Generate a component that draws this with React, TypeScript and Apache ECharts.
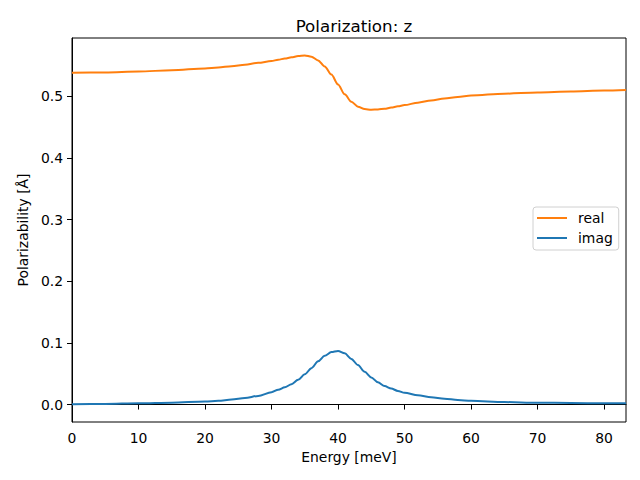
import React, { useEffect, useRef } from "react";
import * as echarts from "echarts";

const energy = [0, 5, 10, 15, 20, 22, 24, 26, 28, 30, 31, 32, 33, 34, 35, 36, 37, 38, 39, 40, 41, 42, 43, 44, 45, 46, 47, 48, 49, 50, 52, 54, 56, 58, 60, 65, 70, 75, 80, 83.3];
const realVals = [0.538, 0.5385, 0.54, 0.542, 0.545, 0.5465, 0.5485, 0.551, 0.554, 0.557, 0.559, 0.561, 0.563, 0.565, 0.566, 0.564, 0.558, 0.548, 0.535, 0.519, 0.503, 0.491, 0.483, 0.479, 0.478, 0.4785, 0.4795, 0.4815, 0.4835, 0.4855, 0.4895, 0.4930, 0.4962, 0.4988, 0.501, 0.504, 0.506, 0.5075, 0.509, 0.51];
const imagVals = [0.0005, 0.001, 0.002, 0.003, 0.005, 0.006, 0.008, 0.0105, 0.014, 0.02, 0.024, 0.028, 0.033, 0.04, 0.049, 0.059, 0.07, 0.079, 0.085, 0.087, 0.083, 0.074, 0.064, 0.053, 0.044, 0.036, 0.03, 0.026, 0.022, 0.019, 0.015, 0.012, 0.0095, 0.0075, 0.006, 0.004, 0.003, 0.0025, 0.002, 0.002];
const xTicks = [0, 10, 20, 30, 40, 50, 60, 70, 80];
const yTicks = [0, 0.1, 0.2, 0.3, 0.4, 0.5];

const FONT = "DejaVu Sans";

export default function App() {
  const ref = useRef<HTMLDivElement>(null);
  useEffect(() => {
    if (!ref.current) return;
    const chart = echarts.init(ref.current, null, { renderer: "svg" });
    const axisCommon = {
      axisLine: { show: true, lineStyle: { color: "#000", width: 1 } },
      splitLine: { show: false },
      nameTextStyle: { color: "#000", fontSize: 13.9, fontFamily: FONT },
    };
    chart.setOption({
      animation: false,
      backgroundColor: "#fff",
      title: {
        text: "Polarization: z",
        left: 349,
        top: 12,
        textAlign: "center",
        textStyle: { color: "#000", fontSize: 16.7, fontWeight: "normal", fontFamily: FONT },
      },
      grid: {
        left: 72,
        right: 14,
        top: 38,
        bottom: 58,
        show: true,
        borderColor: "#000",
        borderWidth: 1,
        containLabel: false,
      },
      legend: {
        orient: "vertical",
        left: 533,
        top: 207,
        data: [
          { name: "real", icon: "rect" },
          { name: "imag", icon: "rect" },
        ],
        itemWidth: 30,
        itemHeight: 2,
        itemGap: 6,
        padding: [4, 6, 5, 4],
        borderColor: "#d0d0d0",
        borderWidth: 1,
        borderRadius: 3,
        backgroundColor: "rgba(255,255,255,0.8)",
        textStyle: { color: "#000", fontSize: 13.9, fontFamily: FONT, padding: [0, 0, 0, 6] },
      },
      xAxis: {
        type: "value",
        min: 0,
        max: 83.3,
        name: "Energy [meV]",
        nameLocation: "middle",
        nameGap: 28,
        ...axisCommon,
        axisTick: { show: true, length: 5, inside: false, customValues: xTicks, lineStyle: { color: "#000" } },
        axisLabel: {
          customValues: xTicks,
          margin: 9,
          color: "#000",
          fontSize: 13.9,
          fontFamily: FONT,
          formatter: (v: number) => String(v),
        },
      },
      yAxis: {
        type: "value",
        min: -0.0283,
        max: 0.5943,
        name: "Polarizability [Å]",
        nameLocation: "middle",
        nameGap: 40,
        ...axisCommon,
        axisTick: { show: true, length: 5, inside: false, customValues: yTicks, lineStyle: { color: "#000" } },
        axisLabel: {
          customValues: yTicks,
          margin: 9,
          color: "#000",
          fontSize: 13.9,
          fontFamily: FONT,
          formatter: (v: number) => v.toFixed(1),
        },
      },
      series: [
        {
          name: "real",
          type: "line",
          symbol: "none",
          smooth: 0.3,
          smoothMonotone: "x",
          lineStyle: { color: "#ff7f0e", width: 2 },
          itemStyle: { color: "#ff7f0e" },
          data: energy.map((e, i) => [e, realVals[i]]),
        },
        {
          name: "imag",
          type: "line",
          symbol: "none",
          smooth: 0.3,
          smoothMonotone: "x",
          lineStyle: { color: "#1f77b4", width: 2 },
          itemStyle: { color: "#1f77b4" },
          data: energy.map((e, i) => [e, imagVals[i]]),
        },
      ],
    });
    return () => chart.dispose();
  }, []);
  return (
    <div
      ref={ref}
      style={{ position: "fixed", left: 0, top: 0, width: 640, height: 480, background: "#fff" }}
    />
  );
}
